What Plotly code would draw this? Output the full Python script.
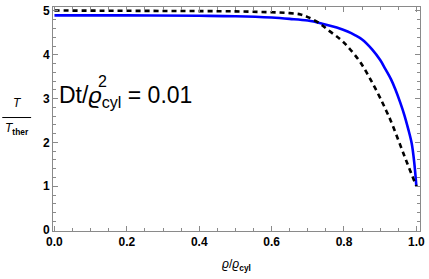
import plotly.graph_objects as go

# Data
blue_x = [0.0, 0.2, 0.4, 0.5, 0.6, 0.65, 0.7, 0.74, 0.78, 0.81, 0.83, 0.85, 0.877, 0.9, 0.914, 0.93, 0.941, 0.955, 0.967, 0.977, 0.987, 0.994, 1.0]
blue_y = [4.90, 4.90, 4.89, 4.88, 4.85, 4.82, 4.78, 4.71, 4.62, 4.53, 4.45, 4.35, 4.13, 3.88, 3.68, 3.44, 3.23, 2.92, 2.62, 2.32, 1.98, 1.55, 1.0]

dash_x = [0.0, 0.3, 0.5, 0.6, 0.65, 0.68, 0.7, 0.73, 0.76, 0.79, 0.81, 0.845, 0.877, 0.905, 0.918, 0.928, 0.955, 0.975, 1.0]
dash_y = [5.01, 5.0, 4.99, 4.97, 4.95, 4.92, 4.86, 4.73, 4.54, 4.35, 4.19, 3.83, 3.38, 2.93, 2.70, 2.52, 1.95, 1.52, 1.0]

x_ticks = [0.0, 0.2, 0.4, 0.6, 0.8, 1.0]
x_ticklabels = ["0.0", "0.2", "0.4", "0.6", "0.8", "1.0"]
y_ticks = [0, 1, 2, 3, 4, 5]
y_ticklabels = ["0", "1", "2", "3", "4", "5"]

fig = go.Figure()
fig.add_trace(go.Scatter(x=blue_x, y=blue_y, mode="lines", line=dict(color="#0000ff", width=2.6), line_shape="spline"))
fig.add_trace(go.Scatter(x=dash_x, y=dash_y, mode="lines", line=dict(color="black", width=2.6, dash="5px,4px"), line_shape="spline"))

W, H = 429, 279
ml, mr, mt, mb = 53, 7, 4, 48
pw = W - ml - mr
ph = H - mt - mb

def px(xp):
    return (xp - ml) / pw

def py(yp):
    return (H - mb - yp) / ph

axis_common = dict(
    showgrid=False, zeroline=False, showline=True, linecolor="#8a8a8a", linewidth=1,
    mirror="ticks", ticks="inside", ticklen=5, tickcolor="#8a8a8a", tickwidth=1,
    tickfont=dict(family="Liberation Sans, Arial", size=12, color="black", weight="bold"),
)

fig.update_layout(
    width=W, height=H, margin=dict(l=ml, r=mr, t=mt, b=mb),
    paper_bgcolor="white", plot_bgcolor="white", showlegend=False,
    xaxis=dict(range=[-0.004, 1.01], tickvals=x_ticks, ticktext=x_ticklabels,
               minor=dict(dtick=0.05, ticks="inside", ticklen=3, tickcolor="#8a8a8a"), **axis_common),
    yaxis=dict(range=[-0.02, 5.09], tickvals=y_ticks, ticktext=y_ticklabels,
               minor=dict(dtick=0.2, ticks="inside", ticklen=3, tickcolor="#8a8a8a"), **axis_common),
)

font_reg = "Liberation Sans, Arial"
ann = []
# annotation text
ann.append(dict(x=px(57), y=py(95), xref="paper", yref="paper", xanchor="left", yanchor="middle",
                text="Dt/<i>ϱ</i><sub>cyl</sub> = 0.01", showarrow=False,
                font=dict(family=font_reg, size=23, color="black")))
ann.append(dict(x=px(96), y=py(80), xref="paper", yref="paper", xanchor="left", yanchor="middle",
                text="2", showarrow=False, font=dict(family=font_reg, size=16, color="black")))
# y title fraction
ann.append(dict(x=px(17), y=py(101), xref="paper", yref="paper", xanchor="center", yanchor="middle",
                text="<i>T</i>", showarrow=False, font=dict(family=font_reg, size=12, color="black")))
ann.append(dict(x=px(17), y=py(128), xref="paper", yref="paper", xanchor="center", yanchor="middle",
                text="<i>T</i><sub><b>ther</b></sub>", showarrow=False, font=dict(family=font_reg, size=12, color="black")))
# x title
ann.append(dict(x=px(237), y=py(265), xref="paper", yref="paper", xanchor="center", yanchor="middle",
                text="<i>ϱ</i>/<i>ϱ</i><sub><b>cyl</b></sub>", showarrow=False, font=dict(family=font_reg, size=12, color="black")))
fig.update_layout(annotations=ann)
fig.add_shape(type="line", xref="paper", yref="paper", x0=px(2), x1=px(31), y0=py(116), y1=py(116),
              line=dict(color="black", width=1))

fig.write_html("out.html", config={"displayModeBar": False},
               post_script="document.body.style.margin='0';document.body.style.overflow='hidden';")
